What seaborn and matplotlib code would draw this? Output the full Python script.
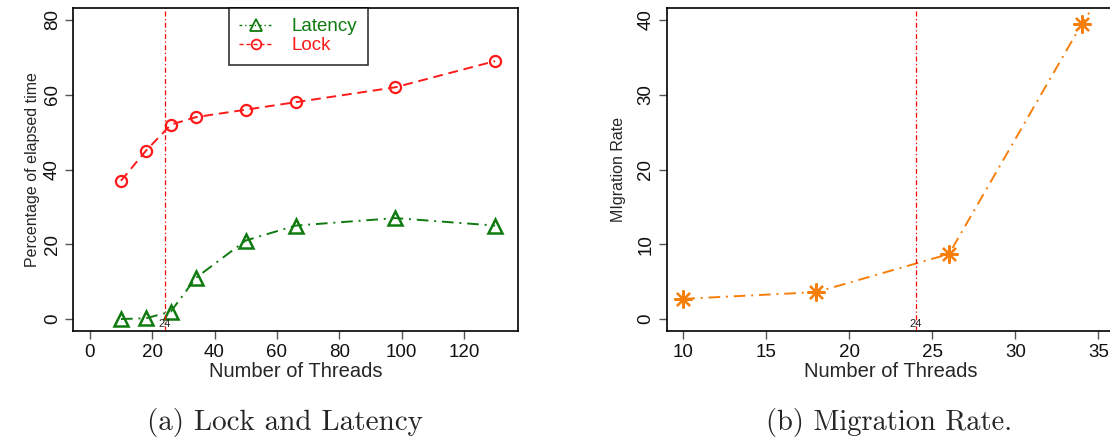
import matplotlib
matplotlib.use("Agg")
import matplotlib.pyplot as plt
import seaborn as sns
import pandas as pd
from matplotlib.lines import Line2D

# ---- data ----
threads_a = [10, 18, 26, 34, 50, 66, 98, 130]
latency = [0, 0.2, 2, 11, 21, 25, 27, 25]
lock = [37, 45, 52, 54, 56, 58, 62, 69]

threads_b = [10, 18, 26, 34, 42]
migration = [2.7, 3.6, 8.7, 39.5, 66]

marker_x = 24
xticks_a = [0, 20, 40, 60, 80, 100, 120]
yticks_a = [0, 20, 40, 60, 80]
xticks_b = [10, 15, 20, 25, 30, 35]
yticks_b = [0, 10, 20, 30, 40]

sns.set_theme(style="white")
plt.rcParams['font.family'] = ['Liberation Sans', 'DejaVu Sans']

GREEN = "#0f7a0f"
RED = "#ff1a1a"
ORANGE = "#f57f0a"
DOTDASH = (0, (6, 3, 1, 3))
DASH = (0, (5, 3))

fig = plt.figure(figsize=(11.1, 4.42), dpi=100)
axa = fig.add_axes([0.066, 0.2511, 0.4006, 0.7308])
axb = fig.add_axes([0.6006, 0.2511, 0.404, 0.7308])

dfa = pd.DataFrame({"threads": threads_a, "latency": latency, "lock": lock})
dfb = pd.DataFrame({"threads": threads_b, "migration": migration})

sns.lineplot(data=dfa, x="threads", y="latency", ax=axa, color=GREEN,
             linestyle=DOTDASH, lw=1.4, marker="^", markersize=10,
             markerfacecolor="none", markeredgecolor=GREEN, markeredgewidth=1.8,
             estimator=None, sort=False)
sns.lineplot(data=dfa, x="threads", y="lock", ax=axa, color=RED,
             linestyle=DASH, lw=1.4, marker="o", markersize=8,
             markerfacecolor="none", markeredgecolor=RED, markeredgewidth=1.6,
             estimator=None, sort=False)
sns.lineplot(data=dfb, x="threads", y="migration", ax=axb, color=ORANGE,
             linestyle=DOTDASH, lw=1.4, marker=(8, 2, 0), markersize=13,
             markeredgecolor=ORANGE, markeredgewidth=1.6,
             estimator=None, sort=False)

for ax in (axa, axb):
    ax.axvline(marker_x, color="red", lw=0.9, linestyle=(0, (4, 2, 1, 2)))
    ax.text(marker_x, 0.005, "24", transform=ax.get_xaxis_transform(),
            ha="center", va="bottom", fontsize=8, color="#222222")
    for s in ax.spines.values():
        s.set_color("black")
        s.set_linewidth(1.2)
    ax.tick_params(axis="both", which="both", length=6, width=1,
                   color="#555555", labelsize=13.5, direction="out",
                   bottom=True, left=True, pad=3, labelcolor="#111111")

axa.set_xlim(-5.3, 137.3)
axa.set_ylim(-3.2, 83.2)
axa.set_xticks(xticks_a)
axa.set_yticks(yticks_a)
axa.set_yticklabels([str(v) for v in yticks_a], rotation=90, va="center")
axa.set_xlabel("Number of Threads", fontsize=14.5, labelpad=1)
axa.set_ylabel("Percentage of elapsed time", fontsize=11.5, labelpad=3)

axb.set_xlim(9.0, 36.0)
axb.set_ylim(-1.6, 41.6)
axb.set_xticks(xticks_b)
axb.set_yticks(yticks_b)
axb.set_yticklabels([str(v) for v in yticks_b], rotation=90, va="center")
axb.set_xlabel("Number of Threads", fontsize=14.5, labelpad=1)
axb.set_ylabel("MIgration Rate", fontsize=11.5, labelpad=8)

handles = [
    Line2D([], [], color=GREEN, linestyle=(0, (2, 2, 1, 2)), lw=1, marker="^",
           markersize=8, markerfacecolor="none", markeredgecolor=GREEN, markeredgewidth=1.3),
    Line2D([], [], color=RED, linestyle=(0, (3, 2)), lw=1, marker="o",
           markersize=7, markerfacecolor="none", markeredgecolor=RED, markeredgewidth=1.3),
]
leg = axa.legend(handles, ["Latency", "Lock"], loc="upper left",
                 bbox_to_anchor=(0.35, 1.0), borderaxespad=0, frameon=True,
                 fancybox=False, edgecolor="black", fontsize=13.5,
                 handlelength=1.8, handletextpad=1.0, borderpad=0.55,
                 labelspacing=0.1)
leg.get_frame().set_linewidth(1.2)
for t, c in zip(leg.get_texts(), [GREEN, RED]):
    t.set_color(c)

fig.text(0.257, 0.012, "(a) Lock and Latency", ha="center", va="bottom",
         fontsize=21, family="cmr10")
fig.text(0.801, 0.012, "(b) Migration Rate.", ha="center", va="bottom",
         fontsize=20.5, family="cmr10")

fig.savefig("out.png", dpi=100)
